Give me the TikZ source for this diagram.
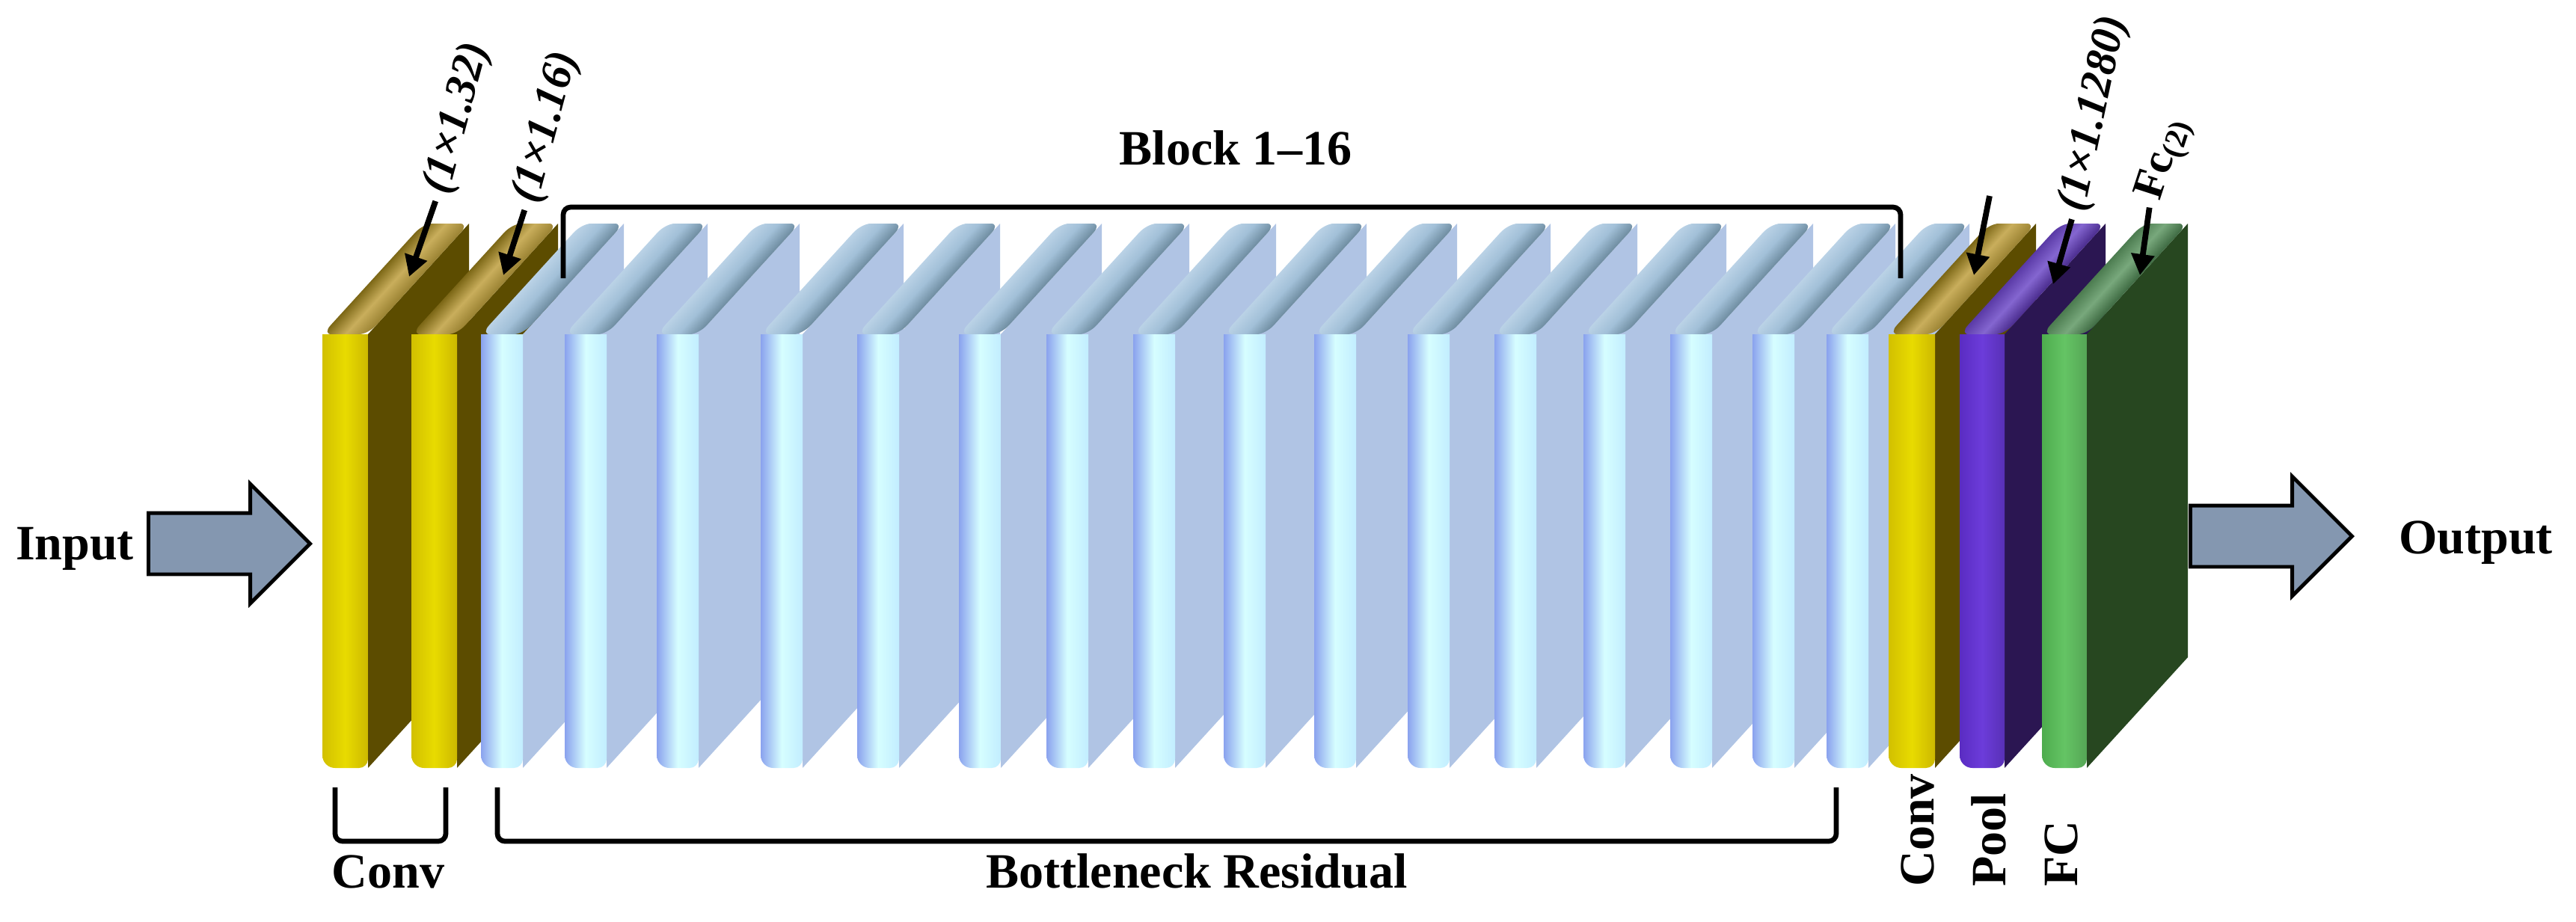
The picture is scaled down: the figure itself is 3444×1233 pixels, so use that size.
\documentclass[tikz,border=0pt]{standalone}
\usepackage{fontspec}
\setmainfont{Liberation Serif}
\usetikzlibrary{arrows.meta,shapes.arrows}

% layer colours: front left/middle/right, top left/middle/right, side
\definecolor{yelfl}{HTML}{D2C000}\definecolor{yelfm}{HTML}{E8DB00}\definecolor{yelfr}{HTML}{CCB800}
\definecolor{yeltl}{HTML}{7C6716}\definecolor{yeltm}{HTML}{C9AE5C}\definecolor{yeltr}{HTML}{9A8232}
\definecolor{yelside}{HTML}{5C4C00}
\definecolor{blufl}{HTML}{8AA2EE}\definecolor{blufm}{HTML}{D6FEFF}\definecolor{blufr}{HTML}{C2EDFF}
\definecolor{blutl}{HTML}{BAD2E6}\definecolor{blutm}{HTML}{A2C0D8}\definecolor{blutr}{HTML}{6E8CA0}
\definecolor{bluside}{HTML}{B0C4E4}
\definecolor{purfl}{HTML}{5A2CC2}\definecolor{purfm}{HTML}{6C3CDA}\definecolor{purfr}{HTML}{5830B6}
\definecolor{purtl}{HTML}{5A3AA6}\definecolor{purtm}{HTML}{8466D0}\definecolor{purtr}{HTML}{4A2C8E}
\definecolor{purside}{HTML}{2B1652}
\definecolor{grnfl}{HTML}{4EAC4E}\definecolor{grnfm}{HTML}{64C464}\definecolor{grnfr}{HTML}{55A655}
\definecolor{grntl}{HTML}{4C7C50}\definecolor{grntm}{HTML}{78A87C}\definecolor{grntr}{HTML}{3E6A42}
\definecolor{grnside}{HTML}{274720}
\definecolor{arrowfill}{HTML}{8497B0}

% one layer slab: #1 left x, #2 front width, #3 colour prefix
\newcommand{\layerslab}[3]{%
  \fill[#3side] (#1+#2,-447) -- (#1+#2+135,-299) -- (#1+#2+135,-879) -- (#1+#2,-1027) -- cycle;
  \begin{scope}[transform canvas={shift={(#1,-447)},xslant=0.912}]
    \shade[left color=#3tl, right color=#3tr, middle color=#3tm, rounded corners=0.6mm] (0,0) rectangle (#2,148);
  \end{scope}
  \shade[left color=#3fl, right color=#3fr, middle color=#3fm] (#1,-447) -- (#1,-1010)
    arc[start angle=180, end angle=270, radius=17] -- (#1+#2-12,-1027)
    arc[start angle=270, end angle=360, radius=12] -- (#1+#2,-447) -- cycle;
}

\begin{document}
\begin{tikzpicture}[x=0.05mm, y=0.05mm, font=\fontsize{9.4}{11}\selectfont\bfseries,
    labtext/.style={inner sep=0pt, anchor=base},
    sidetext/.style={inner sep=0pt, anchor=west, rotate=90},
    toplab/.style={inner sep=1.5pt, rotate=#1, font=\fontsize{8.4}{10}\selectfont\bfseries\itshape},
    toplab/.default=75,
    labarrow/.style={line width=1.1pt, -{Triangle[length=1.4mm,width=1.5mm]}},
    bracket/.style={line width=0.95pt, rounded corners=0.5mm},
    blockarrow/.style={single arrow, draw=black, line width=0.7pt, fill=arrowfill,
      inner xsep=0pt, inner ysep=1.925mm, minimum height=10.8mm, minimum width=7.75mm,
      single arrow head extend=1.95mm}]
  \useasboundingbox (0,0) rectangle (3444,-1233);

  % layers, back to front
  \layerslab{431}{61}{yel}
  \layerslab{550}{61}{yel}
  \foreach \bx in {643,755,878,1017,1146,1282,1399,1515,1636,1757,1882,1998,2117,2233,2343,2442}
    {\layerslab{\bx}{56}{blu}}
  \layerslab{2525}{62}{yel}
  \layerslab{2620}{60}{pur}
  \layerslab{2730}{60}{grn}

  % input / output
  \node[labtext] (input) at (100,-748) {Input};
  \node[blockarrow, anchor=tip] (inarrow) at (418,-727) {};
  \node[blockarrow, anchor=tip] (outarrow) at (3148,-717) {};
  \node[labtext] (output) at (3310,-740) {Output};

  % brackets
  \draw[bracket] (753,-372) -- (753,-277) -- (2541,-277) -- (2541,-372);
  \draw[bracket] (448,-1053) -- (448,-1125) -- (596,-1125) -- (596,-1053);
  \draw[bracket] (665,-1053) -- (665,-1125) -- (2455,-1125) -- (2455,-1053);
  \node[labtext] (blocks) at (1652,-220) {Block 1–16};
  \node[labtext] (convlab) at (519,-1187) {Conv};
  \node[labtext] (bottleneck) at (1600,-1187) {Bottleneck Residual};
  \node[sidetext] (convside) at (2564,-1187) {Conv};
  \node[sidetext] (poolside) at (2659,-1187) {Pool};
  \node[sidetext] (fcside) at (2756,-1187) {FC};

  % size labels
  \node[toplab] (dim1) at (612,-158) {(1×1.32)};
  \node[toplab] (dim2) at (731,-170) {(1×1.16)};
  \node[toplab=78] (dim3) at (2800,-152) {(1×1.1280)};
  \node[toplab=72] (fc2) at (2895,-212) {\upshape Fc\textsubscript{(2)}};
  \coordinate (tip1) at (547,-370);
  \coordinate (tip2) at (673,-368);
  \coordinate (convtail) at (2660,-262);
  \coordinate (convtip) at (2639,-368);
  \coordinate (tip3) at (2745,-380);
  \coordinate (tip4) at (2861,-368);
  \draw[labarrow] (dim1.west) -- (tip1);
  \draw[labarrow] (dim2.west) -- (tip2);
  \draw[labarrow] (convtail) -- (convtip);
  \draw[labarrow] (dim3.west) -- (tip3);
  \draw[labarrow] (fc2.west) -- (tip4);
\end{tikzpicture}
\end{document}
